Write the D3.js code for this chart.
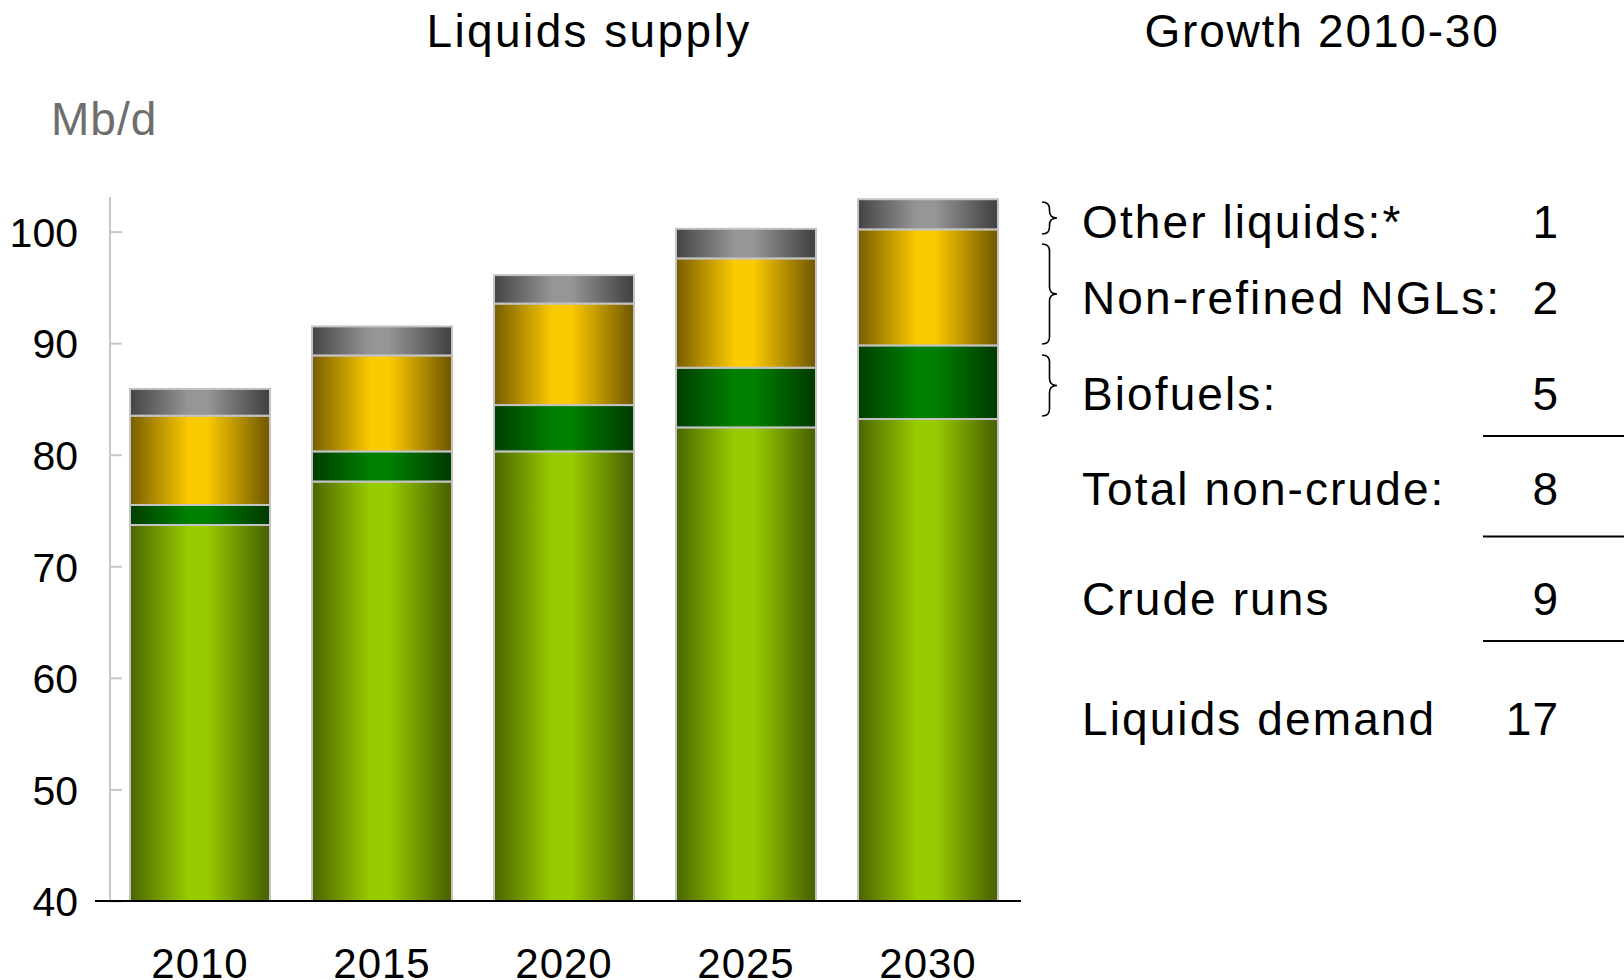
<!DOCTYPE html>
<html>
<head>
<meta charset="utf-8">
<script src="https://cdn.jsdelivr.net/npm/d3@7"></script>
<style>
  body { margin: 0; background: #fff; }
  text { font-family: "Liberation Sans", Arial, sans-serif; }
</style>
</head>
<body>
<svg width="1624" height="980"></svg>
<script>
// data (Mb/d)
var years = ["2010", "2015", "2020", "2025", "2030"];
var crude = [73.7, 77.6, 80.3, 82.45, 83.2];
var biofuels = [1.8, 2.7, 4.15, 5.35, 6.6];
var ngls = [8.0, 8.6, 9.1, 9.8, 10.4];
var other = [2.4, 2.6, 2.55, 2.65, 2.7];
var yTicks = [40, 50, 60, 70, 80, 90, 100];

var growthLabels = ["Other liquids:*", "Non-refined NGLs:", "Biofuels:", "Total non-crude:", "Crude runs", "Liquids demand"];
var growthValues = ["1", "2", "5", "8", "9", "17"];

var svg = d3.select("svg");

var series = [
  {key: "crude", values: crude, edge: "#4b6500", mid: "#99cc00"},
  {key: "bio", values: biofuels, edge: "#003d00", mid: "#008000"},
  {key: "ngl", values: ngls, edge: "#775d00", mid: "#fcca00"},
  {key: "other", values: other, edge: "#444444", mid: "#969696"}
];

var table = years.map((y, i) => {
  var row = {year: y};
  series.forEach(s => row[s.key] = s.values[i]);
  return row;
});
var stacked = d3.stack().keys(series.map(s => s.key))(table);

var x = d3.scaleBand().domain(years).range([109, 1019])
  .paddingInner(42/182).paddingOuter(21/182);
// axis starts at 40, so clamp the bottom of the crude bars
var y = d3.scaleLinear().domain([40, 103.1]).range([901, 197]).clamp(true);

// gradients, dark at the edges and bright in the middle
var defs = svg.append("defs");
series.forEach(function(s){
  var g = defs.append("linearGradient").attr("id", "g-" + s.key)
    .attr("x1", 0).attr("x2", 1).attr("y1", 0).attr("y2", 0);
  [[0, s.edge], [0.42, s.mid], [0.55, s.mid], [0.97, s.edge], [1, s.edge]].forEach(function(st){
    g.append("stop").attr("offset", st[0]).attr("stop-color", st[1]);
  });
});

// y axis, ticks point inwards
var yAxis = svg.append("g").attr("transform", "translate(110,0)")
  .call(d3.axisLeft(y).tickValues(yTicks).tickSizeInner(-12).tickSizeOuter(0).tickPadding(32));
yAxis.select(".domain").attr("stroke", "#c8c8c8").attr("stroke-width", 2)
  .attr("d", "M0," + y(103.1) + "V" + y(40));
yAxis.selectAll(".tick line").attr("stroke", "#c8c8c8").attr("stroke-width", 2);
yAxis.selectAll(".tick text").attr("font-size", 41).attr("fill", "#000")
  .attr("font-family", "Liberation Sans, Arial, sans-serif").attr("dy", "0.36em");

// bars
svg.append("g").selectAll("g").data(stacked).enter().append("g")
  .attr("fill", d => "url(#g-" + d.key + ")")
  .selectAll("rect").data(d => d).enter().append("rect")
  .attr("x", d => x(d.data.year))
  .attr("width", x.bandwidth())
  .attr("y", d => y(d[1]))
  .attr("height", d => y(d[0]) - y(d[1]))
  .attr("stroke", "#c4c4c4").attr("stroke-width", 2);

// base line
svg.append("line").attr("x1", 95).attr("x2", 1021).attr("y1", y(40)).attr("y2", y(40))
  .attr("stroke", "#000").attr("stroke-width", 2);

// x labels
var xAxis = svg.append("g").attr("transform", "translate(0," + y(40) + ")")
  .call(d3.axisBottom(x).tickSize(0).tickPadding(47));
xAxis.select(".domain").remove();
xAxis.selectAll("text").attr("font-size", 42).attr("fill", "#000")
  .attr("letter-spacing", 1).attr("dy", "0.71em")
  .attr("font-family", "Liberation Sans, Arial, sans-serif");

// titles
svg.append("text").attr("x", 589).attr("y", 47).attr("text-anchor", "middle")
  .attr("font-size", 46).attr("letter-spacing", 2.4).text("Liquids supply");
svg.append("text").attr("x", 1322).attr("y", 47).attr("text-anchor", "middle")
  .attr("font-size", 46).attr("letter-spacing", 1.8).text("Growth 2010-30");
svg.append("text").attr("x", 51).attr("y", 135).attr("fill", "#6e6e6e")
  .attr("font-size", 46).attr("letter-spacing", 1).text("Mb/d");

// growth table
var rowY = [238, 314, 410, 505, 615, 735];
var rows = svg.append("g").selectAll("g").data(growthLabels).enter().append("g");
rows.append("text").attr("x", 1082).attr("y", (d, i) => rowY[i])
  .attr("font-size", 46).attr("letter-spacing", 2.1).text(d => d);
rows.append("text").attr("x", 1559).attr("y", (d, i) => rowY[i])
  .attr("text-anchor", "end").attr("font-size", 46).attr("letter-spacing", 1).text((d, i) => growthValues[i]);

[436, 536.5, 641].forEach(function(ly){
  svg.append("line").attr("x1", 1483).attr("x2", 1624).attr("y1", ly).attr("y2", ly)
    .attr("stroke", "#000").attr("stroke-width", 2);
});

// braces
function brace(x0, y0, y1, w){
  var m = (y0 + y1) / 2, h = w / 2, r = Math.min(7, (y1 - y0) / 4);
  return "M" + x0 + "," + y0 +
    "Q" + (x0 + h) + "," + y0 + " " + (x0 + h) + "," + (y0 + r) +
    "V" + (m - r) +
    "Q" + (x0 + h) + "," + m + " " + (x0 + w) + "," + m +
    "Q" + (x0 + h) + "," + m + " " + (x0 + h) + "," + (m + r) +
    "V" + (y1 - r) +
    "Q" + (x0 + h) + "," + y1 + " " + x0 + "," + y1;
}
[[202, 234], [244, 344], [355, 416]].forEach(function(b){
  svg.append("path").attr("d", brace(1042, b[0], b[1], 15))
    .attr("fill", "none").attr("stroke", "#000").attr("stroke-width", 1.6);
});
</script>
</body>
</html>
